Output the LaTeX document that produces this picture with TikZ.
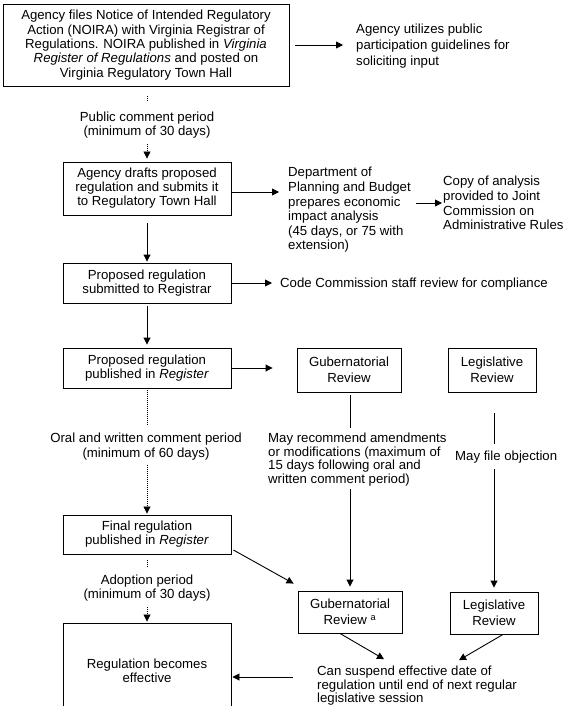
\documentclass[tikz,border=0pt]{standalone}
\usepackage{fontspec}
\setmainfont{Liberation Sans}
\usetikzlibrary{arrows.meta}
\begin{document}
\begin{tikzpicture}[x=1pt,y=-1pt,
  every node/.style={font=\fontsize{13.2}{14.5}\selectfont, inner sep=0pt},
  box/.style={draw, line width=0.9pt, align=center, minimum width=168pt},
  rbox/.style={draw, line width=0.9pt, align=center, font=\fontsize{13.2}{16}\selectfont},
  lbl/.style={align=left, anchor=west},
  ctr/.style={align=center},
  arr/.style={line width=0.9pt, -{Triangle[length=7pt,width=7pt]}},
  ln/.style={line width=0.9pt},
  dotln/.style={line width=0.8pt, dash pattern=on 1pt off 1pt},
  dotarr/.style={dotln, -{Triangle[length=7pt,width=7pt]}}
]
\useasboundingbox (0,0) rectangle (570,706);
\clip (0,0) rectangle (570,706);

% boxes and labels
\node[box, minimum width=286pt, minimum height=82pt, font=\fontsize{13.2}{14.3}\selectfont] (box1) at (146,45)
  {Agency files Notice of Intended Regulatory\\Action (NOIRA) with Virginia Registrar of\\Regulations. NOIRA published in \textit{Virginia}\\\textit{Register of Regulations} and posted on\\Virginia Regulatory Town Hall};
\node[lbl, font=\fontsize{13.2}{15.8}\selectfont] (util) at (356,46)
  {Agency utilizes public\\participation guidelines for\\soliciting input};
\node[ctr] (pc) at (147,125) {Public comment period\\(minimum of 30 days)};
\node[box, minimum height=53pt, font=\fontsize{13.2}{14}\selectfont] (box2) at (147,188.5)
  {Agency drafts proposed\\regulation and submits it\\to Regulatory Town Hall};
\node[lbl, font=\fontsize{13.2}{14.6}\selectfont] (dpb) at (288,210)
  {Department of\\Planning and Budget\\prepares economic\\impact analysis\\(45 days, or 75 with\\extension)};
\node[lbl, font=\fontsize{13.2}{14.7}\selectfont] (copy) at (443,203)
  {Copy of analysis\\provided to Joint\\Commission on\\Administrative Rules};
\node[box, minimum height=40pt, font=\fontsize{13.2}{13.8}\selectfont] (box3) at (147,283)
  {Proposed regulation\\submitted to Registrar};
\node[lbl] (code) at (280,284) {Code Commission staff review for compliance};
\node[box, minimum height=40pt, font=\fontsize{13.2}{13.8}\selectfont] (box4) at (147,368)
  {Proposed regulation\\published in \textit{Register}};
\node[rbox, minimum width=104pt, minimum height=44pt] (gub1) at (349,370) {Gubernatorial\\Review};
\node[rbox, minimum width=88pt, minimum height=44pt] (leg1) at (492,370) {Legislative\\Review};
\node[ctr, font=\fontsize{13.2}{15}\selectfont] (ow) at (146,446.5)
  {Oral and written comment period\\(minimum of 60 days)};
\node[lbl, font=\fontsize{13.2}{13.7}\selectfont] (mrm) at (268,459.5)
  {May recommend amendments\\or modifications (maximum of\\15 days following oral and\\written comment period)};
\node[lbl] (mfo) at (455,457) {May file objection};
\node[box, minimum height=39pt, font=\fontsize{13.2}{14}\selectfont] (box5) at (147,534.5)
  {Final regulation\\published in \textit{Register}};
\node[ctr, font=\fontsize{13.2}{14}\selectfont] (adopt) at (147,588)
  {Adoption period\\(minimum of 30 days)};
\node[rbox, minimum width=104pt, minimum height=42pt] (gub2) at (350,612)
  {Gubernatorial\\Review \textsuperscript{a}};
\node[rbox, minimum width=88pt, minimum height=42pt] (leg2) at (494,613) {Legislative\\Review};
\node[box, minimum height=96pt, font=\fontsize{13.2}{14}\selectfont] (box6) at (147,671)
  {Regulation becomes\\effective};
\node[lbl, font=\fontsize{13.2}{13.5}\selectfont] (can) at (317,686)
  {Can suspend effective date of\\regulation until end of next regular\\legislative session};

% connectors
\draw[arr, shorten <=6pt, shorten >=13pt] (box1.east) -- (box1.east -| util.west);
\draw[dotln, shorten <=10pt, shorten >=9pt] (pc.north |- box1.south) -- (pc.north);
\draw[dotarr, shorten <=5pt, shorten >=3pt] (pc.south) -- (box2.north);
\draw[arr, shorten >=9pt] ([yshift=-3.5pt]box2.east) -- ([yshift=-3.5pt]box2.east -| dpb.west);
\draw[arr, shorten <=5pt, shorten >=1pt] (dpb.east |- copy.west) -- (copy.west);
\draw[arr, shorten <=8pt, shorten >=1pt] (box2.south) -- (box3.north);
\draw[arr, shorten >=8pt] (box3.east) -- (box3.east -| code.west);
\draw[arr, shorten <=3pt, shorten >=3pt] (box3.south) -- (box4.north);
\draw[arr, shorten >=24pt] (box4.east) -- (box4.east -| gub1.west);
\draw[dotln, shorten <=2pt, shorten >=7pt] (box4.south) -- (box4.south |- ow.north);
\draw[dotarr, shorten <=5pt, shorten >=1pt] (box5.north |- ow.south) -- (box5.north);
\draw[ln, shorten <=3pt, shorten >=5pt] (gub2.north |- gub1.south) -- (gub2.north |- mrm.north);
\draw[arr, shorten <=3pt, shorten >=4pt] (gub2.north |- mrm.south) -- (gub2.north);
\draw[ln, shorten <=21pt, shorten >=7pt] (leg2.north |- leg1.south) -- (leg2.north |- mfo.north);
\draw[arr, shorten <=6pt, shorten >=4pt] (leg2.north |- mfo.south) -- (leg2.north);
\draw[arr] ([xshift=2pt,yshift=-15.5pt]box5.east) -- ([xshift=-4pt,yshift=7pt]gub2.north west);
\draw[dotln, shorten <=6pt, shorten >=8pt] (box5.south) -- (box5.south |- adopt.north);
\draw[dotarr, shorten <=6pt, shorten >=1pt] (adopt.south) -- (box6.north);
\draw[arr] ([xshift=-10pt]gub2.south) -- ([xshift=67pt,yshift=7pt]can.north west);
\draw[arr] ([xshift=9pt]leg2.south) -- ([xshift=142pt,yshift=6pt]can.north west);
\draw[arr, shorten >=1pt] ([xshift=-24pt,yshift=9pt]can.west) -- ([yshift=-6pt]box6.east);
\end{tikzpicture}
\end{document}
